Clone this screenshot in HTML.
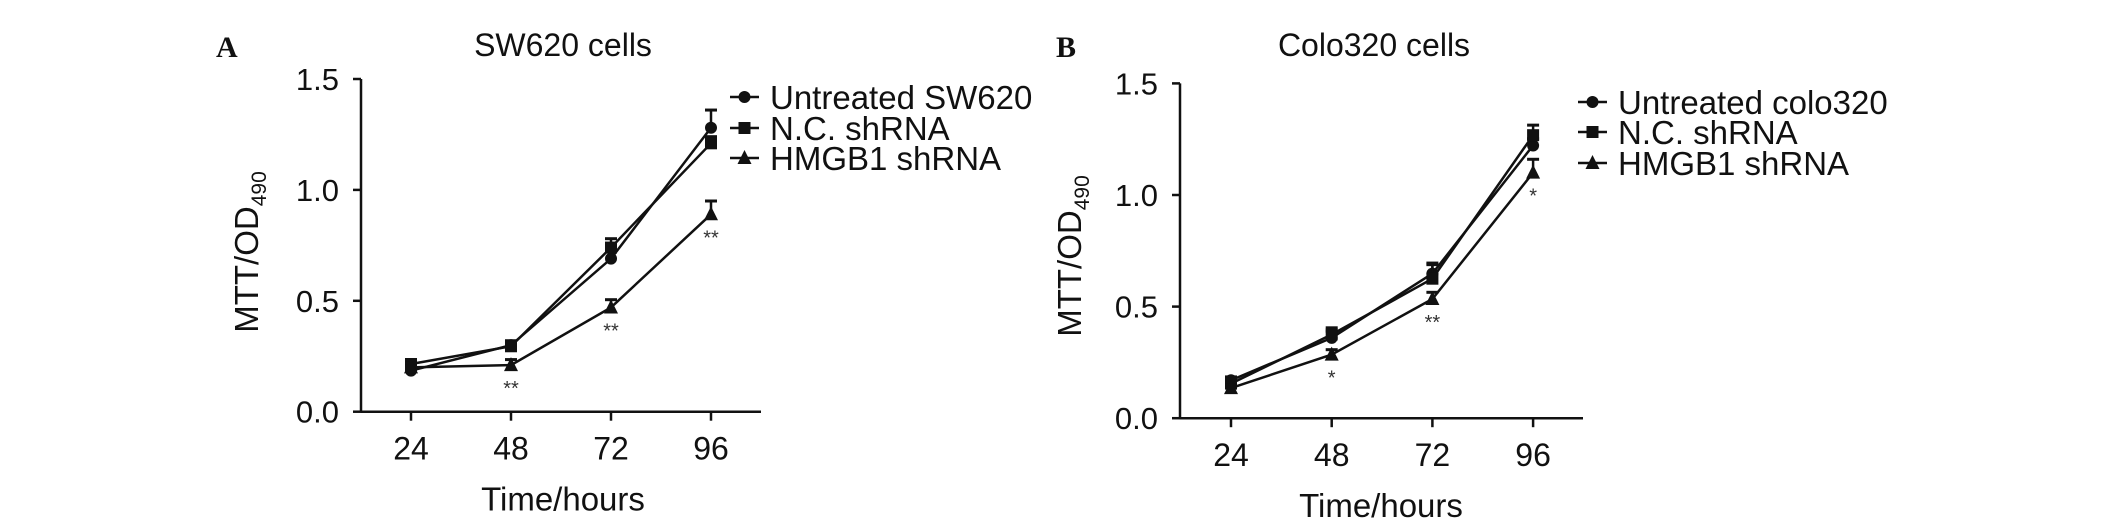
<!DOCTYPE html>
<html><head><meta charset="utf-8"><style>
html,body{margin:0;padding:0;background:#fff;}
svg{display:block;font-family:"Liberation Sans",Arial,sans-serif;}
</style></head><body>
<svg id="fig" width="2126" height="530" viewBox="0 0 2126 530"></svg>
<script>
const categories = [24, 48, 72, 96];
const yTicks = [0.0, 0.5, 1.0, 1.5];
const yTickLabels = ["0.0", "0.5", "1.0", "1.5"];
// Panel A
const aUntreated = [0.185, 0.30, 0.69, 1.28];
const aUntreatedErr = [0.02, 0.02, 0.03, 0.08];
const aNC = [0.215, 0.295, 0.74, 1.21];
const aNCErr = [0.02, 0.02, 0.04, 0.03];
const aHMGB1 = [0.20, 0.21, 0.47, 0.89];
const aHMGB1Err = [0.02, 0.025, 0.035, 0.06];
const aStars = ["", "**", "**", "**"];
// Panel B
const bUntreated = [0.17, 0.36, 0.648, 1.222];
const bUntreatedErr = [0.015, 0.03, 0.04, 0.03];
const bNC = [0.155, 0.375, 0.625, 1.268];
const bNCErr = [0.015, 0.03, 0.07, 0.045];
const bHMGB1 = [0.135, 0.285, 0.534, 1.10];
const bHMGB1Err = [0.015, 0.022, 0.03, 0.06];
const bStars = ["", "*", "**", "*"];

const NS = "http://www.w3.org/2000/svg";
const svg = document.getElementById("fig");
function mk(tag, attrs, parent, text) {
  const e = document.createElementNS(NS, tag);
  for (const k in attrs) e.setAttribute(k, attrs[k]);
  if (text !== undefined) e.textContent = text;
  (parent || svg).appendChild(e);
  return e;
}
function marker(g, type, cx, cy) {
  let m;
  if (type === "circle") m = mk("circle", {cx: cx, cy: cy, r: 6, fill: "#111"}, g);
  else if (type === "square") m = mk("rect", {x: cx - 6, y: cy - 6, width: 12, height: 12, fill: "#111"}, g);
  else m = mk("polygon", {points: `${cx},${cy - 8} ${cx - 7},${cy + 6} ${cx + 7},${cy + 6}`, fill: "#111"}, g);
  return m;
}
function panel(cfg) {
  const g = mk("g", {});
  
  
  const xS = v => cfg.x24 + (v - 24) / 24 * cfg.xStep;
  const yS = v => cfg.y0 - v * cfg.yUnit;
  const letter = mk("text", {x: cfg.letterX, y: 57, "font-family": "Liberation Serif, serif", "font-weight": "bold", "font-size": 30, fill: "#111"}, g, cfg.letter);
  
  
  const title = mk("text", {x: cfg.titleX, y: 56, "text-anchor": "middle", "font-size": 32, fill: "#111"}, g, cfg.title);
  
  
  const ya = mk("line", {x1: cfg.axisX, y1: yS(1.5), x2: cfg.axisX, y2: cfg.y0 + 1, stroke: "#111", "stroke-width": 2.5}, g);
  
  
  const xa = mk("line", {x1: cfg.axisX, y1: cfg.y0, x2: cfg.xEnd, y2: cfg.y0, stroke: "#111", "stroke-width": 2.5}, g);
  
  
  yTicks.forEach((t, i) => {
    mk("line", {x1: cfg.axisX - 8, y1: yS(t), x2: cfg.axisX, y2: yS(t), stroke: "#111", "stroke-width": 2.5}, g);
    const tl = mk("text", {x: cfg.axisX - 22, y: yS(t) + 11, "text-anchor": "end", "font-size": 31, fill: "#111"}, g, yTickLabels[i]);
    
    
  });
  categories.forEach(c => {
    mk("line", {x1: xS(c), y1: cfg.y0, x2: xS(c), y2: cfg.y0 + 9, stroke: "#111", "stroke-width": 2.5}, g);
    const tl = mk("text", {x: xS(c), y: cfg.y0 + 48, "text-anchor": "middle", "font-size": 32, fill: "#111"}, g, String(c));
    
    
  });
  const xt = mk("text", {x: cfg.xTitleX, y: cfg.y0 + 99, "text-anchor": "middle", "font-size": 33, fill: "#111"}, g, "Time/hours");
  
  
  const yt = mk("text", {transform: `translate(${cfg.yTitleX},${cfg.yTitleY}) rotate(-90)`, "text-anchor": "middle", "font-size": 33, fill: "#111"}, g);
  
  
  mk("tspan", {}, yt, "MTT/OD");
  mk("tspan", {"font-size": 21, dy: 8}, yt, "490");
  cfg.series.forEach(s => {
    const sg = mk("g", {}, g);
    
    
    const pts = categories.map((c, i) => `${xS(c)},${yS(s.vals[i])}`).join(" ");
    const pl = mk("polyline", {points: pts, fill: "none", stroke: "#111", "stroke-width": 2.5}, sg);
    
    
    categories.forEach((c, i) => {
      const x = xS(c), y = yS(s.vals[i]), yt2 = yS(s.vals[i] + s.err[i]);
      mk("line", {x1: x, y1: y, x2: x, y2: yt2, stroke: "#111", "stroke-width": 2.5}, sg);
      mk("line", {x1: x - 6, y1: yt2, x2: x + 6, y2: yt2, stroke: "#111", "stroke-width": 3}, sg);
      const m = marker(sg, s.marker, x, y);
      
      
    });
  });
  cfg.stars.forEach((st, i) => {
    if (!st) return;
    const v = cfg.series[2].vals[i];
    const t = mk("text", {x: xS(categories[i]), y: yS(v) + 30, "text-anchor": "middle", "font-size": 20, fill: "#333"}, g, st);
    
    
  });
  cfg.series.forEach((s, i) => {
    const y = cfg.legY[i];
    const lg = mk("g", {}, g);
    
    
    mk("line", {x1: cfg.legX, y1: y, x2: cfg.legX + 29, y2: y, stroke: "#111", "stroke-width": 2.5}, lg);
    marker(lg, s.marker, cfg.legX + 14.5, y);
    mk("text", {x: cfg.legX + 40, y: y + 12, "font-size": 33, fill: "#111"}, lg, s.name);
  });
}
panel({id: "sw620", letter: "A", letterX: 216, title: "SW620 cells", titleX: 563,
  axisX: 361, y0: 411.7, yUnit: 221.8, x24: 411, xStep: 100, xEnd: 761,
  xTitleX: 563, yTitleX: 258, yTitleY: 252, legX: 730, legY: [97, 128, 158],
  stars: aStars,
  series: [
    {key: "untreated", name: "Untreated SW620", marker: "circle", vals: aUntreated, err: aUntreatedErr},
    {key: "nc-shrna", name: "N.C. shRNA", marker: "square", vals: aNC, err: aNCErr},
    {key: "hmgb1-shrna", name: "HMGB1 shRNA", marker: "triangle", vals: aHMGB1, err: aHMGB1Err}]});
panel({id: "colo320", letter: "B", letterX: 1056, title: "Colo320 cells", titleX: 1374,
  axisX: 1180, y0: 418.2, yUnit: 223.2, x24: 1231, xStep: 100.7, xEnd: 1583,
  xTitleX: 1381, yTitleX: 1081, yTitleY: 256, legX: 1578, legY: [102, 132, 163],
  stars: bStars,
  series: [
    {key: "untreated", name: "Untreated colo320", marker: "circle", vals: bUntreated, err: bUntreatedErr},
    {key: "nc-shrna", name: "N.C. shRNA", marker: "square", vals: bNC, err: bNCErr},
    {key: "hmgb1-shrna", name: "HMGB1 shRNA", marker: "triangle", vals: bHMGB1, err: bHMGB1Err}]});
</script>
</body></html>
